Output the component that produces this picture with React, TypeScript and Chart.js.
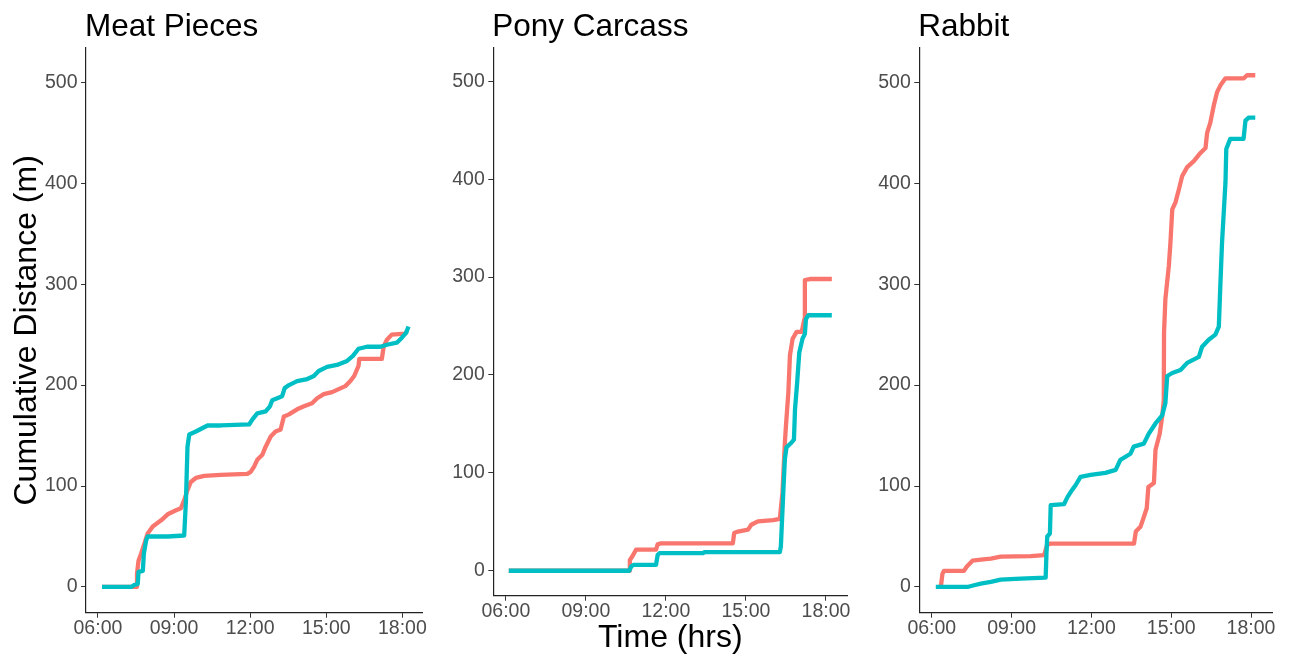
import React, { useEffect, useRef } from "react";
import { Chart, registerables } from "chart.js";

Chart.register(...registerables);

// ---- data -------------------------------------------------------------
const panelTitles = ["Meat Pieces", "Pony Carcass", "Rabbit"];
const seriesNames = ["Series 1", "Series 2"];

const xTickHours = [6, 9, 12, 15, 18];
const xTickLabels = ["06:00", "09:00", "12:00", "15:00", "18:00"];
const yTicks = [0, 100, 200, 300, 400, 500];

// Meat Pieces
const meatRedHours = [6.16, 7.51, 7.54, 7.6, 7.7, 7.83, 7.96, 8.16, 8.49, 8.75, 9.08, 9.27, 9.4, 9.53, 9.66, 9.86, 10.19, 10.84, 11.89, 12.02, 12.15, 12.28, 12.48, 12.61, 12.81, 13.0, 13.2, 13.33, 13.53, 13.85, 14.12, 14.44, 14.64, 14.9, 15.23, 15.49, 15.75, 15.95, 16.1, 16.27, 16.3, 17.19, 17.26, 17.39, 17.58, 18.11, 18.17];
const meatRedDist = [0, 0, 13, 26, 33, 43, 53, 60, 66, 72, 76, 78, 86, 96, 104, 108, 110, 111, 112, 114, 119, 126, 131, 139, 149, 154, 156, 169, 171, 176, 179, 182, 187, 191, 193, 196, 199, 204, 209, 219, 226, 226, 238, 245, 250, 251, 253];
const meatCyanHours = [6.16, 7.31, 7.44, 7.57, 7.6, 7.77, 7.81, 7.9, 7.96, 8.75, 9.4, 9.47, 9.53, 9.6, 9.86, 10.32, 10.84, 11.96, 12.09, 12.28, 12.61, 12.78, 12.87, 13.26, 13.36, 13.53, 13.85, 14.25, 14.51, 14.7, 15.03, 15.42, 15.82, 16.05, 16.27, 16.6, 17.13, 17.39, 17.78, 17.98, 18.15, 18.24];
const meatCyanDist = [0, 0, 2, 3, 15, 16, 33, 46, 50, 50, 51, 86, 139, 151, 154, 160, 160, 161, 166, 172, 174, 179, 185, 189, 197, 200, 204, 206, 209, 214, 218, 220, 224, 229, 236, 238, 238, 240, 242, 247, 252, 258];

// Pony Carcass
const ponyRedHours = [6.11, 10.63, 10.65, 10.75, 10.88, 11.63, 11.69, 11.81, 14.51, 14.56, 14.7, 15.08, 15.2, 15.45, 16.02, 16.27, 16.37, 16.46, 16.5, 16.59, 16.65, 16.75, 16.9, 17.09, 17.19, 17.21, 17.4, 18.22];
const ponyRedDist = [0, 0, 11, 15, 21.5, 21.5, 27, 28, 28, 38.6, 40, 42, 47, 50.5, 51.6, 53, 80, 131, 148, 182, 220, 237, 244, 244, 257, 297, 298, 298];
const ponyCyanHours = [6.11, 10.63, 10.7, 10.78, 11.63, 11.69, 11.76, 13.39, 13.45, 16.27, 16.31, 16.4, 16.46, 16.52, 16.71, 16.8, 16.84, 16.92, 17.0, 17.12, 17.21, 17.25, 17.34, 18.22];
const ponyCyanDist = [0, 0, 4.4, 6, 6, 16, 18, 18, 19, 19, 25, 80, 114, 126, 131, 134, 165, 192, 223, 237, 242, 257, 261, 261];

// Rabbit
const rabbitRedHours = [6.24, 6.34, 6.4, 6.46, 7.21, 7.31, 7.53, 7.84, 8.22, 8.59, 9.72, 10.22, 10.34, 10.47, 13.6, 13.67, 13.85, 13.98, 14.08, 14.14, 14.35, 14.41, 14.57, 14.66, 14.72, 14.73, 14.78, 14.91, 14.97, 15.04, 15.16, 15.29, 15.41, 15.6, 15.85, 16.1, 16.29, 16.35, 16.47, 16.6, 16.72, 16.85, 17.04, 17.73, 17.85, 18.16];
const rabbitRedDist = [0, 0, 13, 16, 16, 20, 26, 27, 28, 30, 30.5, 31.5, 42, 43, 43, 55, 60, 70, 78, 99, 103, 136, 152, 169, 185, 252, 285, 318, 341, 374, 381, 394, 407, 416, 422, 430, 435, 450, 460, 477, 490, 497, 504, 504, 507, 507];
const rabbitCyanHours = [6.15, 7.34, 7.59, 7.84, 8.22, 8.59, 9.34, 10.28, 10.31, 10.34, 10.44, 10.47, 10.97, 11.1, 11.22, 11.41, 11.59, 11.97, 12.53, 12.91, 13.09, 13.47, 13.59, 13.97, 14.16, 14.41, 14.66, 14.78, 14.85, 15.04, 15.35, 15.6, 16.04, 16.16, 16.41, 16.66, 16.79, 16.85, 16.91, 17.04, 17.07, 17.22, 17.72, 17.79, 17.91, 18.16];
const rabbitCyanDist = [0, 0, 1.7, 3.3, 5, 7.3, 8.3, 9.3, 33, 50, 53, 81, 82, 89, 94, 101, 109, 111, 113, 116, 126, 132, 139, 142, 152, 162, 170, 182, 209, 212, 215, 222, 228, 238, 245, 250, 258, 301, 341, 401, 434, 444, 444, 462, 465, 465];

// ---- appearance -------------------------------------------------------
const RED = "#F8766D";
const CYAN = "#00BFC4";
const FONT = '"Liberation Sans", Arial, Helvetica, sans-serif';
const X_MIN = 5.53;
const X_MAX = 18.8;
const Y_MIN = -25.5;
const Y_MAX = 534;
const CANVAS_HEIGHT = 657;

// The second series (cyan) is drawn over the first, so it gets the lower order.
const panelSeries = [
  [
    { hours: meatRedHours, dist: meatRedDist, color: RED, order: 1 },
    { hours: meatCyanHours, dist: meatCyanDist, color: CYAN, order: 0 },
  ],
  [
    { hours: ponyRedHours, dist: ponyRedDist, color: RED, order: 1 },
    { hours: ponyCyanHours, dist: ponyCyanDist, color: CYAN, order: 0 },
  ],
  [
    { hours: rabbitRedHours, dist: rabbitRedDist, color: RED, order: 1 },
    { hours: rabbitCyanHours, dist: rabbitCyanDist, color: CYAN, order: 0 },
  ],
];

const panelLayouts = [
  { left: 0, width: 430, yAxisWidth: 86, padRight: 7.3, xAxisHeight: 44.3, showYTitle: true, showXTitle: false },
  { left: 430, width: 430, yAxisWidth: 63.3, padRight: 12.7, xAxisHeight: 61.3, showYTitle: false, showXTitle: true },
  { left: 860, width: 433, yAxisWidth: 59.3, padRight: 20.7, xAxisHeight: 44.3, showYTitle: false, showXTitle: false },
];

// Facet title drawn flush with the left edge of the plotting area.
const panelTitlePlugin = {
  id: "panelTitle",
  afterDraw(chart: any, _args: any, opts: any) {
    const { ctx, chartArea } = chart;
    ctx.save();
    ctx.font = `31.5px ${FONT}`;
    ctx.fillStyle = "#000000";
    ctx.textAlign = "left";
    ctx.textBaseline = "alphabetic";
    ctx.fillText(opts.text, chartArea.left - 1, 35.5);
    ctx.restore();
  },
};

function Panel({ index }: { index: number }) {
  const ref = useRef<HTMLCanvasElement | null>(null);
  const lay = panelLayouts[index];

  useEffect(() => {
    if (!ref.current) return;
    const datasets = panelSeries[index].map((s, i) => ({
      label: seriesNames[i],
      order: s.order,
      data: s.hours.map((h, k) => ({ x: h, y: s.dist[k] })),
      borderColor: s.color,
      backgroundColor: s.color,
      borderWidth: 4.3,
      pointRadius: 0,
      pointHoverRadius: 0,
      fill: false,
      tension: 0,
      borderJoinStyle: "round" as const,
      borderCapStyle: "butt" as const,
    }));

    const tickFont = { family: FONT, size: 19.5 };
    const chart = new Chart(ref.current, {
      type: "line",
      data: { datasets },
      plugins: [panelTitlePlugin],
      options: {
        animation: false,
        responsive: false,
        events: [],
        layout: { padding: { top: 48, right: lay.padRight, bottom: 0, left: 0 } },
        plugins: {
          legend: { display: false },
          tooltip: { enabled: false },
          title: { display: false },
          panelTitle: { text: panelTitles[index] },
        } as any,
        scales: {
          x: {
            type: "linear",
            min: X_MIN,
            max: X_MAX,
            afterBuildTicks: (scale: any) => {
              scale.ticks = xTickHours.map((v) => ({ value: v }));
            },
            afterFit: (scale: any) => {
              scale.height = lay.xAxisHeight;
            },
            ticks: {
              callback: (_v: any, i: number) => xTickLabels[i],
              color: "#4D4D4D",
              font: tickFont,
              padding: -0.5,
              maxRotation: 0,
              autoSkip: false,
            },
            grid: {
              display: true,
              drawOnChartArea: false,
              drawTicks: true,
              tickLength: 5,
              tickColor: "#333333",
              lineWidth: 1,
            },
            border: { display: true, color: "#222222", width: 1.2 },
            title: {
              display: lay.showXTitle,
              text: "Time (hrs)",
              color: "#000000",
              font: { family: FONT, size: 32 },
              padding: { top: 0, bottom: 0 },
            },
          },
          y: {
            type: "linear",
            min: Y_MIN,
            max: Y_MAX,
            afterBuildTicks: (scale: any) => {
              scale.ticks = yTicks.map((v) => ({ value: v }));
            },
            afterFit: (scale: any) => {
              scale.width = lay.yAxisWidth;
            },
            ticks: {
              callback: (v: any) => String(v),
              color: "#4D4D4D",
              font: tickFont,
              padding: 3.5,
              autoSkip: false,
            },
            grid: {
              display: true,
              drawOnChartArea: false,
              drawTicks: true,
              tickLength: 5,
              tickColor: "#333333",
              lineWidth: 1,
            },
            border: { display: true, color: "#222222", width: 1.2 },
            title: {
              display: lay.showYTitle,
              text: "Cumulative Distance (m)",
              color: "#000000",
              font: { family: FONT, size: 32 },
              padding: { top: 8, bottom: 0 },
            },
          },
        },
      },
    });
    return () => chart.destroy();
  }, [index]);

  return (
    <canvas
      ref={ref}
      width={lay.width}
      height={CANVAS_HEIGHT}
      style={{ position: "absolute", left: lay.left, top: 0, width: lay.width, height: CANVAS_HEIGHT }}
    />
  );
}

export default function App() {
  return (
    <div
      style={{
        position: "absolute",
        left: 0,
        top: 0,
        width: 1293,
        height: CANVAS_HEIGHT,
        background: "#ffffff",
        overflow: "hidden",
      }}
    >
      {panelTitles.map((_, i) => (
        <Panel key={i} index={i} />
      ))}
    </div>
  );
}
